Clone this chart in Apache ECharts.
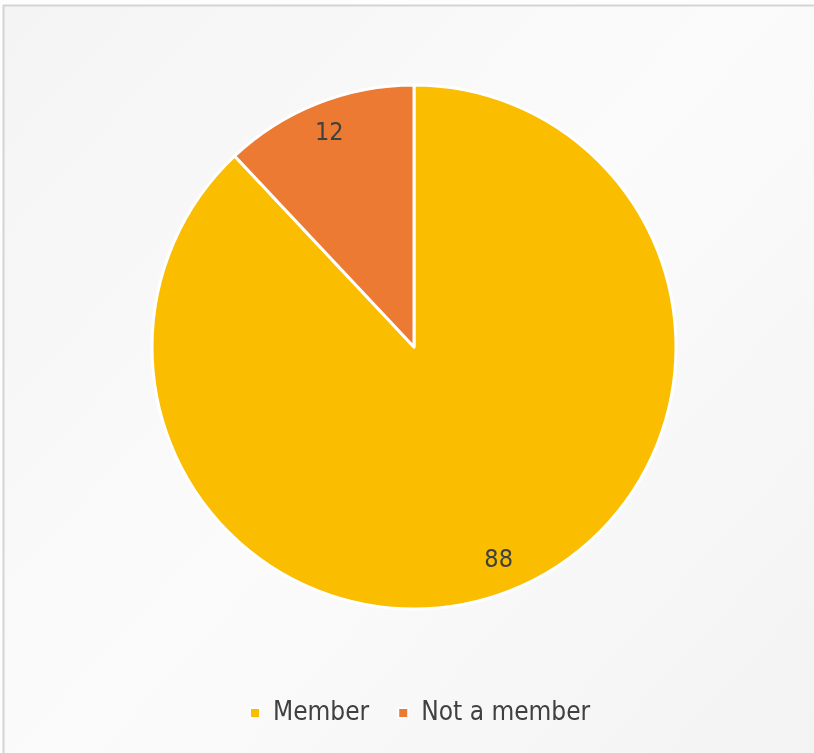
<!DOCTYPE html>
<html>
<head>
<meta charset="utf-8">
<script src="https://cdn.jsdelivr.net/npm/echarts@6/dist/echarts.min.js"></script>
<style>
  html, body { margin: 0; padding: 0; background: #ffffff; }
  #myChart { width: 814px; height: 753px; }
</style>
</head>
<body>
<div id="myChart"></div>
<script>
// 数据
var names = ['Member', 'Not a member'];
var values = [88, 12];
var colors = ['#FABD00', '#EC7A32'];

var pieData = names.map(function (n, i) {
    return { name: n, value: values[i], itemStyle: { color: colors[i] } };
});

var myChart = echarts.init(document.getElementById('myChart'));
myChart.setOption({
    backgroundColor: {
        type: 'linear', x: 0, y: 0, x2: 1, y2: 1,
        colorStops: [
            { offset: 0, color: '#f4f4f4' },
            { offset: 0.5, color: '#fbfbfb' },
            { offset: 1, color: '#f3f3f3' }
        ]
    },
    graphic: [
        { type: 'rect', shape: { x: 0, y: 0, width: 814, height: 5 }, style: { fill: '#fdfdfd' }, silent: true },
        { type: 'rect', shape: { x: 0, y: 0, width: 3, height: 753 }, style: { fill: '#fdfdfd' }, silent: true },
        { type: 'line', shape: { x1: 3, y1: 5.5, x2: 814, y2: 5.5 }, style: { stroke: '#d4d4d4', lineWidth: 2 }, silent: true },
        { type: 'line', shape: { x1: 3.5, y1: 5, x2: 3.5, y2: 753 }, style: { stroke: '#d4d4d4', lineWidth: 2 }, silent: true }
    ],
    legend: {
        bottom: 22,
        left: 244,
        icon: 'rect',
        itemWidth: 10,
        itemHeight: 10,
        itemGap: 28,
        data: names,
        textStyle: {
            color: '#404040',
            fontSize: 26,
            fontFamily: 'DejaVu Sans Condensed',
            padding: [0, 0, 0, 8]
        }
    },
    series: [
        {
            type: 'pie',
            center: [414, 347],
            radius: 262,
            startAngle: 90,
            clockwise: true,
            silent: true,
            itemStyle: { borderColor: '#ffffff', borderWidth: 3 },
            label: { show: false },
            labelLine: { show: false },
            data: pieData
        },
        {
            // 只用于显示数值标签
            type: 'pie',
            center: [414, 347],
            radius: [192, 262],
            startAngle: 90,
            clockwise: true,
            silent: true,
            itemStyle: { color: 'rgba(0,0,0,0)' },
            label: {
                show: true,
                position: 'inside',
                formatter: '{c}',
                color: '#404040',
                fontSize: 25,
                fontFamily: 'DejaVu Sans Condensed'
            },
            labelLine: { show: false },
            data: names.map(function (n, i) { return { name: n, value: values[i] }; })
        }
    ]
});
</script>
</body>
</html>
